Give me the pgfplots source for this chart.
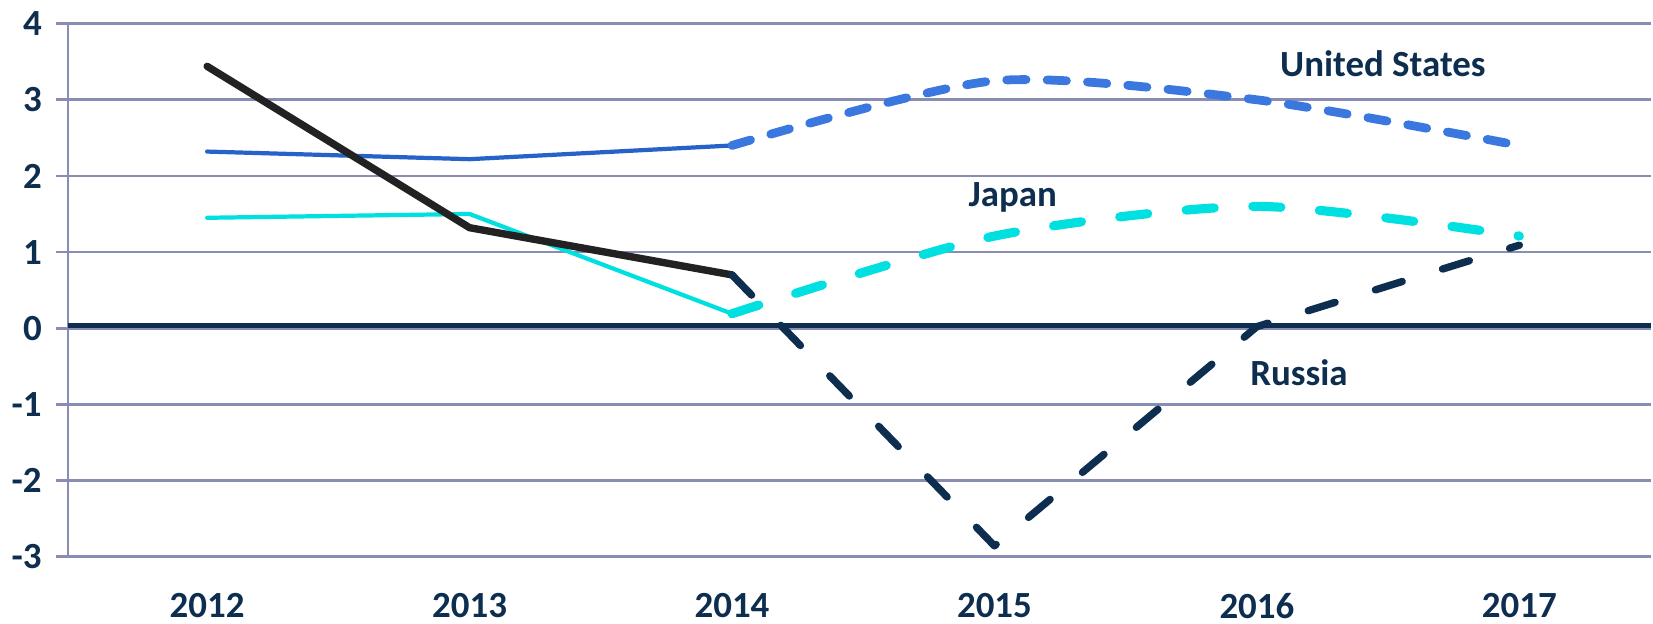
\documentclass[border=0pt]{standalone}
\usepackage{fontspec}
\setmainfont{Carlito}
\usepackage{pgfplots}
\pgfplotsset{compat=1.18}
\definecolor{navy}{HTML}{0D2E4E}
\definecolor{gridc}{HTML}{8A8DB3}
\definecolor{usblue}{HTML}{2563C9}
\definecolor{usdash}{HTML}{3A78E0}
\definecolor{jpcyan}{HTML}{00E0E0}
\definecolor{rublack}{HTML}{222222}
\begin{document}
\begin{tikzpicture}
\begin{axis}[
  scale only axis, width=15.83cm, height=5.33cm,
  xmin=2011.47, xmax=2017.5, ymin=-3, ymax=4,
  xtick={2012,2013,2014,2015,2016,2017},
  xticklabels={2012,2013,2014,2015,2016,2017},
  ytick={-3,-2,-1,0,1,2,3,4},
  yticklabels={-3,-2,-1,0,1,2,3,4},
  ymajorgrids, grid style={gridc, line width=0.8pt},
  axis y line*=left, axis x line*=bottom,
  axis line style={gridc, line width=0.8pt},
  x axis line style={draw=none},
  xtick style={draw=none},
  ytick style={gridc, line width=0.8pt},
  major tick length=0.12cm, tick align=outside,
  tick label style={font=\bfseries\fontsize{10.5}{12}\selectfont, text=navy},
  yticklabel style={xshift=-0.02cm},
  xticklabel style={inner sep=1.2pt, yshift=-0.2cm},
  clip=false,
]
% zero line
\addplot[navy, line width=1.4pt] coordinates {(2011.47,0.04) (2017.5,0.04)};
% United States
\addplot[usblue, line width=1.2pt, line cap=round] coordinates {(2012,2.32) (2013,2.22) (2014,2.40)};
\addplot[usdash, line width=2.5pt, line cap=round, dash pattern=on 5.5pt off 6pt, smooth, tension=0.45] coordinates {(2014,2.40) (2015,3.25) (2016,3.0) (2017,2.40)};
% Japan
\addplot[jpcyan, line width=1.2pt, line cap=round] coordinates {(2012,1.45) (2013,1.50) (2014,0.19)};
\addplot[jpcyan, line width=2.6pt, line cap=round, dash pattern=on 8pt off 11pt, smooth, tension=0.45] coordinates {(2014,0.19) (2015,1.21) (2016,1.60) (2017,1.21)};
% Russia
\addplot[rublack, line width=2.1pt, line cap=round, line join=round] coordinates {(2012,3.44) (2013,1.32) (2014,0.70)};
\addplot[navy, line width=2.1pt, line cap=round, line join=round, dash pattern=on 8pt off 12pt] coordinates {(2014,0.70) (2015,-2.86) (2016,0.02) (2017,1.09)};
% labels
\node[font=\bfseries\fontsize{10.5}{12}\selectfont, text=navy] at (axis cs:2016.48,3.47) {United States};
\node[font=\bfseries\fontsize{10.5}{12}\selectfont, text=navy] at (axis cs:2015.07,1.72) {Japan};
\node[font=\bfseries\fontsize{10.5}{12}\selectfont, text=navy] at (axis cs:2016.16,-0.59) {Russia};
\end{axis}
\end{tikzpicture}
\end{document}
